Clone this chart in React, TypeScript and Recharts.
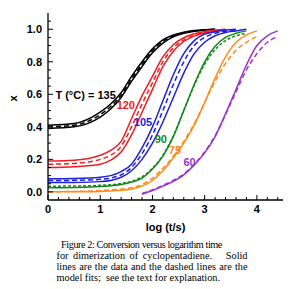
import { LineChart, Line, XAxis, YAxis, ReferenceDot } from "recharts";

const N = null;

// log(t/s) grid shared by all runs
const logT = [0, 0.5, 1.0, 1.2, 1.4, 1.6, 1.8, 2.0, 2.2, 2.4, 2.6, 2.8, 3.0, 3.2, 3.4, 3.6, 3.8, 4.0, 4.2, 4.4];

// conversion x (solid = data, fit = dashed model)
const black135a = [0.41, 0.42, 0.49, 0.54, 0.61, 0.71, 0.80, 0.88, 0.935, 0.965, 0.982, 0.992, 0.997, 1.0, N, N, N, N, N, N];
const black135b = [0.39, 0.40, 0.46, 0.51, 0.58, 0.68, 0.77, 0.855, 0.915, 0.953, 0.975, 0.987, 0.995, 1.0, N, N, N, N, N, N];
const black135fit = [0.40, 0.41, 0.475, 0.525, 0.595, 0.695, 0.785, 0.868, 0.925, 0.96, 0.978, 0.989, 0.995, 0.998, N, N, N, N, N, N];

const red120a = [0.19, 0.195, 0.225, 0.255, 0.31, 0.45, 0.59, 0.71, 0.83, 0.905, 0.948, 0.972, 0.986, 0.995, 1.0, N, N, N, N, N];
const red120b = [0.15, 0.155, 0.17, 0.195, 0.245, 0.35, 0.49, 0.63, 0.77, 0.865, 0.925, 0.958, 0.977, 0.99, 0.997, N, N, N, N, N];
const red120fit = [0.17, 0.175, 0.2, 0.225, 0.28, 0.40, 0.54, 0.67, 0.80, 0.885, 0.935, 0.963, 0.98, 0.99, 0.995, N, N, N, N, N];

const blue105a = [0.08, 0.082, 0.09, 0.10, 0.125, 0.17, 0.27, 0.40, 0.56, 0.72, 0.85, 0.93, 0.97, 0.985, 0.995, 1.0, N, N, N, N];
const blue105b = [0.057, 0.058, 0.063, 0.07, 0.09, 0.13, 0.20, 0.30, 0.43, 0.58, 0.73, 0.85, 0.92, 0.96, 0.98, 0.99, 1.0, N, N, N];
const blue105fit = [0.07, 0.071, 0.077, 0.085, 0.105, 0.15, 0.235, 0.35, 0.50, 0.66, 0.80, 0.90, 0.95, 0.975, 0.988, 0.995, N, N, N, N];

const green90 = [0.025, 0.027, 0.033, 0.038, 0.046, 0.06, 0.085, 0.14, 0.22, 0.34, 0.50, 0.66, 0.80, 0.895, 0.95, 0.975, 0.99, N, N, N];
const green90fit = [0.035, 0.036, 0.04, 0.044, 0.052, 0.066, 0.092, 0.145, 0.225, 0.345, 0.50, 0.655, 0.785, 0.875, 0.93, 0.96, 0.975, N, N, N];

const orange75 = [0.0, 0.001, 0.003, 0.006, 0.01, 0.018, 0.035, 0.07, 0.13, 0.21, 0.30, 0.41, 0.55, 0.70, 0.83, 0.92, 0.965, 0.99, N, N];
const orange75fit = [0.0, 0.003, 0.008, 0.012, 0.017, 0.026, 0.045, 0.085, 0.145, 0.22, 0.31, 0.42, 0.55, 0.68, 0.79, 0.87, 0.92, 0.955, N, N];

const purple60 = [N, N, N, N, N, N, -0.015, 0.008, 0.035, 0.065, 0.105, 0.165, 0.24, 0.34, 0.48, 0.63, 0.78, 0.90, 0.96, 0.99];
const purple60fit = [N, N, N, N, N, N, -0.01, 0.012, 0.04, 0.07, 0.11, 0.17, 0.245, 0.345, 0.475, 0.615, 0.75, 0.85, 0.92, 0.955];

const xTicks = [0, 0.2, 0.4, 0.6, 0.8, 1, 1.2, 1.4, 1.6, 1.8, 2, 2.2, 2.4, 2.6, 2.8, 3, 3.2, 3.4, 3.6, 3.8, 4, 4.2, 4.4];
const yTicks = [0, 0.05, 0.1, 0.15, 0.2, 0.25, 0.3, 0.35, 0.4, 0.45, 0.5, 0.55, 0.6, 0.65, 0.7, 0.75, 0.8, 0.85, 0.9, 0.95, 1.0, 1.05];

const tempLabels = ["T (°C) = 135", "120", "105", "90", "75", "60"];
const tempLabelX = [0.72, 1.49, 1.82, 2.16, 2.43, 2.71];
const tempLabelY = [0.596, 0.534, 0.43, 0.325, 0.258, 0.184];

const BLACK = "#000000";
const RED = "#ee1d23";
const BLUE = "#1f1fe0";
const GREEN = "#14871c";
const ORANGE = "#ff8c1a";
const PURPLE = "#9933cc";
const tempColors = [BLACK, RED, BLUE, GREEN, ORANGE, PURPLE];

const data = logT.map((t, i) => ({
  t,
  black135a: black135a[i],
  black135b: black135b[i],
  black135fit: black135fit[i],
  red120a: red120a[i],
  red120b: red120b[i],
  red120fit: red120fit[i],
  blue105a: blue105a[i],
  blue105b: blue105b[i],
  blue105fit: blue105fit[i],
  green90: green90[i],
  green90fit: green90fit[i],
  orange75: orange75[i],
  orange75fit: orange75fit[i],
  purple60: purple60[i],
  purple60fit: purple60fit[i],
}));

const series = [
  { key: "black135a", color: BLACK },
  { key: "black135b", color: BLACK },
  { key: "black135fit", color: BLACK, dash: "5 3" },
  { key: "red120a", color: RED },
  { key: "red120b", color: RED },
  { key: "red120fit", color: RED, dash: "5 3" },
  { key: "blue105a", color: BLUE },
  { key: "blue105b", color: BLUE },
  { key: "blue105fit", color: BLUE, dash: "5 3" },
  { key: "green90", color: GREEN },
  { key: "green90fit", color: GREEN, dash: "3 2" },
  { key: "orange75", color: ORANGE },
  { key: "orange75fit", color: ORANGE, dash: "5 3" },
  { key: "purple60", color: PURPLE },
  { key: "purple60fit", color: PURPLE, dash: "5 3" },
];

const SANS = "'Liberation Sans', Arial, sans-serif";
const SERIF = "'Liberation Serif', 'Times New Roman', serif";
const AXIS = { stroke: "#000", strokeWidth: 1.3 };

const isMult = (v: number, step: number) => Math.abs(v / step - Math.round(v / step)) < 1e-6;

function BottomTick(props: any) {
  const { x, y, payload } = props;
  const major = isMult(payload.value, 1);
  return (
    <g>
      <line x1={x} x2={x} y1={y} y2={y - (major ? 5 : 3)} stroke="#000" />
      {major && (
        <text x={x} y={y + 13} textAnchor="middle" fontSize={11} fontWeight="bold" fontFamily={SANS} fill="#000">
          {payload.value}
        </text>
      )}
    </g>
  );
}

function TopTick(props: any) {
  const { x, y, payload } = props;
  const major = isMult(payload.value, 1);
  return <line x1={x} x2={x} y1={y} y2={y + (major ? 5 : 3)} stroke="#000" />;
}

function LeftTick(props: any) {
  const { x, y, payload } = props;
  const major = isMult(payload.value, 0.2);
  return (
    <g>
      <line x1={x} x2={x + (major ? 5 : 3)} y1={y} y2={y} stroke="#000" />
      {major && (
        <text x={x - 6} y={y + 4} textAnchor="end" fontSize={11} fontWeight="bold" fontFamily={SANS} fill="#000">
          {payload.value.toFixed(1)}
        </text>
      )}
    </g>
  );
}

function RightTick(props: any) {
  const { x, y, payload } = props;
  const major = isMult(payload.value, 0.2);
  return <line x1={x} x2={x - (major ? 5 : 3)} y1={y} y2={y} stroke="#000" />;
}

const justified = { textAlign: "justify" as const, textAlignLast: "justify" as const };

export default function App() {
  return (
    <div style={{ position: "absolute", left: 0, top: 0, width: 290, height: 289, background: "#fff" }}>
      <LineChart width={290} height={234} data={data} margin={{ top: 13, right: 7, bottom: 0, left: 0 }}>
        <XAxis
          xAxisId="bottom"
          dataKey="t"
          type="number"
          domain={[0, 4.5]}
          ticks={xTicks}
          interval={0}
          tickSize={0}
          tickMargin={0}
          tickLine={false}
          axisLine={AXIS}
          tick={BottomTick}
          height={34}
          allowDataOverflow
          label={(p: any) => (
            <text
              x={p.viewBox.x + p.viewBox.width / 2}
              y={p.viewBox.y + 31}
              textAnchor="middle"
              fontSize={11}
              fontWeight="bold"
              fontFamily={SANS}
              fill="#000"
            >
              log (t/s)
            </text>
          )}
        />
        <XAxis
          xAxisId="top"
          orientation="top"
          dataKey="t"
          type="number"
          domain={[0, 4.5]}
          ticks={xTicks}
          interval={0}
          tickSize={0}
          tickMargin={0}
          tickLine={false}
          axisLine={AXIS}
          tick={TopTick}
          height={0}
          allowDataOverflow
        />
        <YAxis
          yAxisId="left"
          type="number"
          domain={[-0.05, 1.1]}
          ticks={yTicks}
          interval={0}
          tickSize={0}
          tickMargin={0}
          tickLine={false}
          axisLine={AXIS}
          tick={LeftTick}
          width={48}
          allowDataOverflow
          label={(p: any) => {
            const cx = p.viewBox.x + 13;
            const cy = p.viewBox.y + p.viewBox.height / 2 - 8;
            return (
              <text
                x={cx}
                y={cy}
                transform={`rotate(-90 ${cx} ${cy})`}
                textAnchor="middle"
                dominantBaseline="central"
                fontSize={11}
                fontWeight="bold"
                fontFamily={SANS}
                fill="#000"
              >
                x
              </text>
            );
          }}
        />
        <YAxis
          yAxisId="right"
          orientation="right"
          type="number"
          domain={[-0.05, 1.1]}
          ticks={yTicks}
          interval={0}
          tickSize={0}
          tickMargin={0}
          tickLine={false}
          axisLine={AXIS}
          tick={RightTick}
          width={0}
          allowDataOverflow
        />
        {series.map((s) => (
          <Line
            key={s.key}
            xAxisId="bottom"
            yAxisId="left"
            dataKey={s.key}
            type="monotone"
            stroke={s.color}
            strokeWidth={1.5}
            strokeDasharray={s.dash}
            dot={false}
            activeDot={false}
            isAnimationActive={false}
          />
        ))}
        {tempLabels.map((lab, i) => (
          <ReferenceDot
            key={lab}
            xAxisId="bottom"
            yAxisId="left"
            x={tempLabelX[i]}
            y={tempLabelY[i]}
            r={0}
            fill="none"
            stroke="none"
            label={{
              value: lab,
              position: "center",
              fill: tempColors[i],
              fontSize: 11,
              fontWeight: "bold",
              fontFamily: SANS,
            }}
          />
        ))}
      </LineChart>
      <div
        style={{
          position: "absolute",
          left: 56.5,
          top: 239,
          width: 191,
          fontFamily: SERIF,
          fontSize: 10.3,
          lineHeight: "11px",
          color: "#000",
        }}
      >
        <div style={{ paddingLeft: 4.5, letterSpacing: -0.45, whiteSpace: "nowrap" }}>
          Figure 2: Conversion versus logarithm time
        </div>
        <div style={justified}>for dimerization of cyclopentadiene.{"\u00a0\u00a0 "}Solid</div>
        <div style={justified}>lines are the data and the dashed lines are the</div>
        <div style={{ whiteSpace: "pre" }}>model fits;  see the text for explanation.</div>
      </div>
    </div>
  );
}
